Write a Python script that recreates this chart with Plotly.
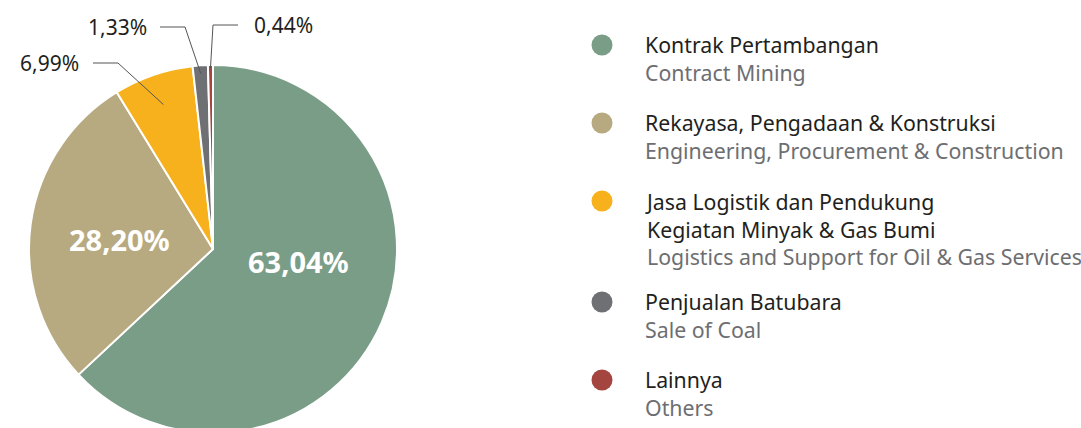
import math
import plotly.graph_objects as go

# ---- data ----
labels_id = ["Kontrak Pertambangan", "Rekayasa, Pengadaan & Konstruksi",
             "Jasa Logistik dan Pendukung<br>Kegiatan Minyak & Gas Bumi",
             "Penjualan Batubara", "Lainnya"]
labels_en = ["Contract Mining", "Engineering, Procurement & Construction",
             "Logistics and Support for Oil & Gas Services", "Sale of Coal", "Others"]
values = [63.04, 28.20, 6.99, 1.33, 0.44]
value_text = ["63,04%", "28,20%", "6,99%", "1,33%", "0,44%"]
colors = ["#7a9d87", "#b7aa80", "#f6b11c", "#6f7074", "#a4453f"]

W, H = 1081, 436          # page is 428 tall; pie bottom is cropped like the reference
CX, CY, R = 213, 249, 184
FONT = "Noto Sans"

fig = go.Figure()

dom_x = [(CX - R) / W, (CX + R) / W]
dom_y = [1 - (CY + R) / H, 1 - (CY - R) / H]

fig.add_trace(go.Pie(
    values=values, labels=[l.replace("<br>", " ") for l in labels_id],
    marker=dict(colors=colors, line=dict(color="white", width=2)),
    sort=False, direction="clockwise", rotation=0,
    textinfo="none",
    domain=dict(x=dom_x, y=dom_y),
    showlegend=False, hoverinfo="label+percent",
))

# big inside labels (text placement)
inside_pos = {0: (298, 261), 1: (119, 239)}
for i, (x, y) in inside_pos.items():
    fig.add_annotation(x=x, y=y, xref="x", yref="y", text=value_text[i], showarrow=False,
                       xanchor="center", yanchor="middle",
                       font=dict(family=FONT, size=29, color="white", weight="bold"))

# leader lines for small slices (end points derived from slice mid-angles)
total = sum(values)
cum = 0
mids = []
for v in values:
    mids.append((cum + v / 2) / total * 360)
    cum += v

# (radius fraction, elbow x, elbow y, line-start x, text x, anchor)
leader = {
    2: (0.83, 118, 63, 93, 81, "right"),
    3: (0.955, 185, 27, 160, 149, "right"),
    4: (0.985, 213, 25, 238, 252, "left"),
}
for i, (rf, ex, ey, sx, tx, anc) in leader.items():
    a = math.radians(mids[i])
    px = CX + rf * R * math.sin(a)
    py = CY - rf * R * math.cos(a)
    fig.add_shape(type="path", xref="x", yref="y", layer="above",
                  path=f"M {sx} {ey} L {ex} {ey} L {px:.2f} {py:.2f}",
                  line=dict(color="#555555", width=1))
    fig.add_annotation(x=tx, y=ey, xref="x", yref="y", text=value_text[i],
                       showarrow=False, xanchor=anc, yanchor="middle",
                       font=dict(family=FONT, size=21, color="#231f20"))

# custom legend
leg_y = [45, 123, 201, 302, 380]
LEG_FS = 21.3
LINE_H = 1.3 * LEG_FS
fig.add_trace(go.Scatter(
    x=[602] * 5, y=leg_y, mode="markers",
    marker=dict(size=21, color=colors, line=dict(width=0)),
    showlegend=False, hoverinfo="skip"))
for yy, lid, len_ in zip(leg_y, labels_id, labels_en):
    n_lines = lid.count("<br>") + 2
    txt = f"{lid}<br><span style='color:#6d6e71'>{len_}</span>"
    fig.add_annotation(x=643, y=yy + (n_lines - 1) * LINE_H / 2, xref="x", yref="y",
                       text=txt, showarrow=False, align="left",
                       xanchor="left", yanchor="middle",
                       font=dict(family=FONT, size=LEG_FS, color="#231f20"))

fig.update_layout(
    width=W, height=H, autosize=False, margin=dict(l=0, r=0, t=0, b=0),
    paper_bgcolor="white", plot_bgcolor="rgba(0,0,0,0)",
    xaxis=dict(range=[0, W], visible=False, fixedrange=True),
    yaxis=dict(range=[H, 0], visible=False, fixedrange=True),
    font=dict(family=FONT),
)

fig.write_html("out.html", config={"displayModeBar": False},
               post_script="document.body.style.margin='0';"
                           "document.body.style.overflow='hidden';"
                           "document.documentElement.style.overflow='hidden';")
